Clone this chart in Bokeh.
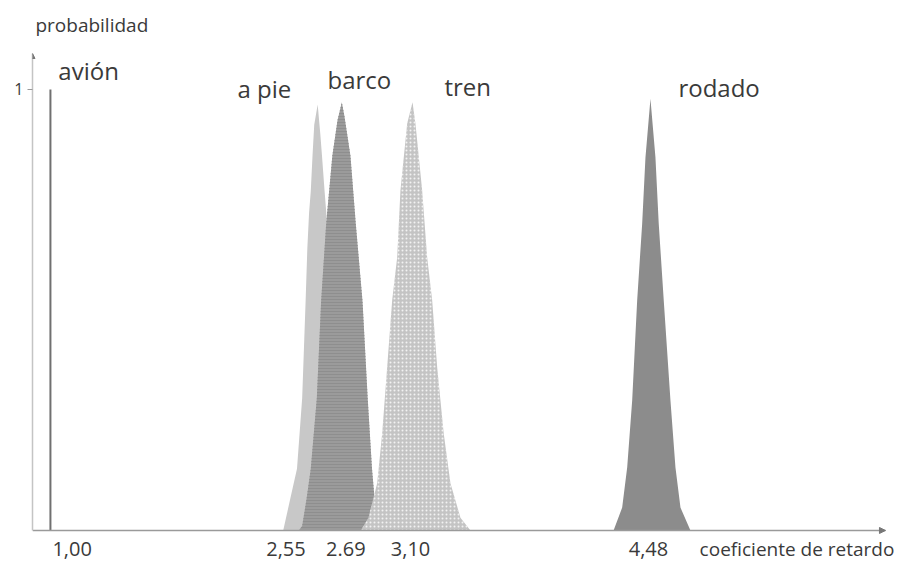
from bokeh.plotting import figure
from bokeh.models import Range1d, FixedTicker, Label, Arrow, NormalHead, LinearAxis
from bokeh.embed import file_html
from bokeh.resources import INLINE

# ---- data ----
a_pie_x = [2.35, 2.39, 2.43, 2.46, 2.48, 2.49, 2.50, 2.51, 2.52, 2.53, 2.55, 2.565, 2.575, 2.59, 2.60, 2.62, 2.64, 2.67, 2.70, 2.75]
a_pie_y = [0.0, 0.07, 0.14, 0.30, 0.52, 0.64, 0.72, 0.77, 0.85, 0.92, 0.966, 0.90, 0.85, 0.77, 0.72, 0.52, 0.30, 0.14, 0.07, 0.0]

barco_x = [2.44, 2.46, 2.485, 2.51, 2.545, 2.57, 2.60, 2.635, 2.665, 2.69, 2.705, 2.74, 2.77, 2.81, 2.84, 2.865, 2.885, 2.91]
barco_y = [0.0, 0.01, 0.07, 0.14, 0.30, 0.52, 0.70, 0.85, 0.93, 0.971, 0.94, 0.85, 0.70, 0.52, 0.30, 0.14, 0.05, 0.0]

tren_x = [2.80, 2.844, 2.895, 2.924, 2.953, 2.982, 3.011, 3.030, 3.069, 3.10, 3.117, 3.156, 3.185, 3.214, 3.243, 3.281, 3.320, 3.378, 3.436]
tren_y = [0.0, 0.029, 0.107, 0.220, 0.370, 0.522, 0.619, 0.771, 0.923, 0.971, 0.923, 0.771, 0.619, 0.522, 0.370, 0.220, 0.107, 0.029, 0.0]

rodado_x = [4.266, 4.316, 4.345, 4.374, 4.403, 4.432, 4.451, 4.48, 4.509, 4.528, 4.557, 4.596, 4.625, 4.654, 4.712]
rodado_y = [0.0, 0.052, 0.143, 0.295, 0.522, 0.696, 0.846, 0.979, 0.846, 0.696, 0.522, 0.295, 0.143, 0.052, 0.0]

avion_x = [1.00, 1.00]
avion_y = [0.0, 1.0]

tick_values = [1.00, 2.55, 2.69, 3.10, 4.48]
tick_labels = ["1,00", "2,55", "2.69", "3,10", "4,48"]

mode_names = ["avión", "a pie", "barco", "tren", "rodado"]

FONT = "Open Sans"
TXT = "#3a3a3a"

X0, X1 = 0.896, 5.843      # extent of the drawn x axis
YTOP = 1.0816              # extent of the drawn y axis

p = figure(width=906, height=562, output_backend="svg", toolbar_location=None,
           title=None, x_range=Range1d(X0, 5.965), y_range=Range1d(-0.0726, 1.2018),
           x_axis_location=None,
           min_border_left=32, min_border_right=0, min_border_top=0, min_border_bottom=0)
p.outline_line_color = None
p.grid.visible = False

# ---- axes ----
xa = LinearAxis(fixed_location=0, bounds=(X0, X1), ticker=FixedTicker(ticks=[]),
                major_tick_line_color=None, minor_tick_line_color=None,
                axis_line_color="#9a9a9a", axis_line_width=1.5)
p.add_layout(xa, "below")

ya = p.yaxis[0]
ya.bounds = (0, YTOP)
ya.ticker = FixedTicker(ticks=[1.0])
ya.major_label_overrides = {1.0: "1"}
ya.major_tick_in = 0
ya.major_tick_out = 5
ya.major_tick_line_color = "#9a9a9a"
ya.minor_tick_line_color = None
ya.major_label_standoff = 4
ya.major_label_text_font = FONT
ya.major_label_text_font_size = "16px"
ya.major_label_text_color = TXT
ya.axis_line_color = "#c4c4c4"
ya.axis_line_width = 1.5

# ---- distributions ----
p.varea(x=a_pie_x, y1=0, y2=a_pie_y, fill_color="#c8c8c8")
p.varea(x=barco_x, y1=0, y2=barco_y, fill_color="#9b9b9b",
        hatch_pattern="horizontal_line", hatch_color="#8e8e8e", hatch_scale=3, hatch_weight=1)
p.varea(x=tren_x, y1=0, y2=tren_y, fill_color="#c4c4c4",
        hatch_pattern="dot", hatch_color="#f2f2f2", hatch_scale=4, hatch_weight=1.5)
p.varea(x=rodado_x, y1=0, y2=rodado_y, fill_color="#8c8c8c")
p.line(x=avion_x, y=avion_y, line_color="#707070", line_width=2)

# ---- arrows at axis ends ----
p.add_layout(Arrow(end=NormalHead(size=6, fill_color="#777777", line_color="#777777"),
                   x_start=X1 - 0.04, y_start=0.0, x_end=X1, y_end=0.0, line_alpha=0))
p.add_layout(Arrow(end=NormalHead(size=5, fill_color="#777777", line_color="#777777"),
                   x_start=X0, y_start=YTOP - 0.02, x_end=X0, y_end=YTOP, line_alpha=0))

# ---- tick labels under the x axis ----
tick_align = ["left", "right", "center", "center", "center"]
tick_off = [2, -12, 4, -2, -2]
for v, t, al, off in zip(tick_values, tick_labels, tick_align, tick_off):
    p.add_layout(Label(x=v, y=-0.041, text=t, text_align=al, text_baseline="middle",
                       x_offset=off, text_font=FONT, text_font_size="20px", text_color=TXT))

# ---- name labels ----
name_pos = [(1.046, 1.043), (2.085, 1.002), (2.607, 1.023), (3.285, 1.007), (4.642, 1.005)]
for n, (lx, ly) in zip(mode_names, name_pos):
    p.add_layout(Label(x=lx, y=ly, text=n, text_align="left", text_baseline="middle",
                       text_font=FONT, text_font_size="24px", text_color=TXT))

p.add_layout(Label(x=0.913, y=1.147, text="probabilidad", text_align="left",
                   text_baseline="middle", text_font=FONT, text_font_size="19px", text_color=TXT))
p.add_layout(Label(x=4.765, y=-0.041, text="coeficiente de retardo", text_align="left",
                   text_baseline="middle", text_font=FONT, text_font_size="19px", text_color=TXT))

open("out.html", "w").write(file_html(p, INLINE))
